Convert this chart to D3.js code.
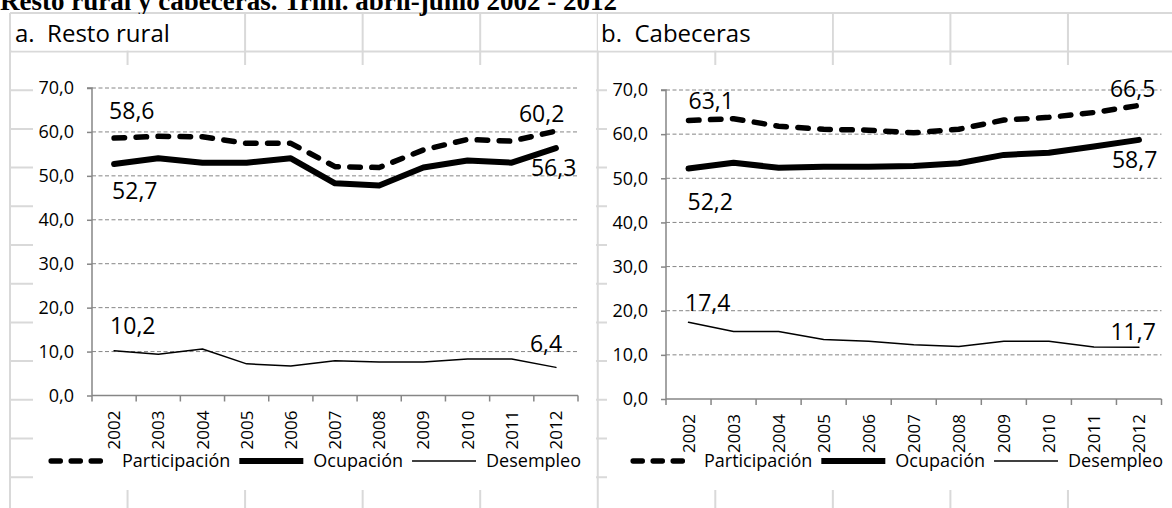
<!DOCTYPE html>
<html>
<head>
<meta charset="utf-8">
<script src="https://cdn.jsdelivr.net/npm/d3@7"></script>
<style>
  body { margin: 0; background: #fff; }
  text { font-family: "Open Sans", sans-serif; fill: #000; }
</style>
</head>
<body>
<svg id="chart" width="1172" height="508"></svg>
<script>
// values
const years = ["2002", "2003", "2004", "2005", "2006", "2007", "2008", "2009", "2010", "2011", "2012"];
const yTicks = [0, 10, 20, 30, 40, 50, 60, 70];
const seriesNames = ["Participación", "Ocupación", "Desempleo"];

const ruralParticipacion = [58.6, 59.0, 58.9, 57.4, 57.4, 52.1, 51.9, 55.9, 58.3, 57.9, 60.2];
const ruralOcupacion     = [52.7, 54.0, 53.0, 53.0, 54.0, 48.3, 47.8, 51.9, 53.5, 53.0, 56.3];
const ruralDesempleo     = [10.2, 9.4, 10.6, 7.2, 6.7, 7.9, 7.6, 7.6, 8.3, 8.3, 6.4];

const cabParticipacion = [63.1, 63.5, 61.8, 61.1, 60.9, 60.3, 61.1, 63.2, 63.8, 64.9, 66.5];
const cabOcupacion     = [52.2, 53.5, 52.4, 52.6, 52.6, 52.8, 53.4, 55.3, 55.8, 57.2, 58.7];
const cabDesempleo     = [17.4, 15.3, 15.3, 13.5, 13.1, 12.3, 11.9, 13.1, 13.1, 11.8, 11.7];

const titleText = "Resto rural y cabeceras. Trim. abril-junio 2002 - 2012";
const panelTitles = ["a.  Resto rural", "b.  Cabeceras"];

// line look per series
const seriesStyle = [
    { width: 5.5, dash: "10.5,11.5" },
    { width: 6, dash: null },
    { width: 1.5, dash: null }
];

// panel layout; label offsets are [first point, last point] as [dx, dy]
const panels = [
    {
        title: panelTitles[0],
        series: [ruralParticipacion, ruralOcupacion, ruralDesempleo],
        box: { x: 33, y: 65, w: 563, h: 425 },
        plot: { x0: 92, x1: 578, top: 88, bottom: 395.5 },
        labelOffsets: [[[-5, -19], [-37, -9]], [[-2, 35], [-25, 28]], [[-4, -17], [-26, -15]]],
        headerX: 15, maskEnd: 244
    },
    {
        title: panelTitles[1],
        series: [cabParticipacion, cabOcupacion, cabDesempleo],
        box: { x: 607, y: 65, w: 579, h: 425 },
        plot: { x0: 666, x1: 1161.5, top: 90, bottom: 399 },
        labelOffsets: [[[0, -11.5], [-29, -8]], [[-1, 41], [-27, 28]], [[-3.5, -11], [-28.5, -7]]],
        headerX: 601, maskEnd: 832
    }
];

const comma = v => d3.format(".1f")(v).replace(".", ",");
const gridGray = "#d9d9d9";
const axisGray = "#868686";

const svg = d3.select("#chart");
svg.append("rect").attr("width", 1172).attr("height", 508).attr("fill", "#fff");

// spreadsheet cell grid behind the charts
const cols = d3.range(11).map(i => 10 + i * 117.55);
const rows = [13].concat(d3.range(13).map(i => 51.5 + i * 38.7));
const sheet = svg.append("g");
sheet.selectAll("line.h").data(rows).join("line")
    .attr("x1", 10).attr("x2", 1172).attr("y1", d => d).attr("y2", d => d)
    .attr("stroke", gridGray).attr("stroke-width", 2);
sheet.selectAll("line.v").data(cols).join("line")
    .attr("x1", d => d).attr("x2", d => d).attr("y1", 13).attr("y2", 508)
    .attr("stroke", gridGray).attr("stroke-width", 2);

// title (clipped at the top of the window, like the source)
const title = svg.append("text")
    .attr("x", 0).attr("y", 9.5)
    .style("font-family", "'Liberation Serif', serif")
    .style("font-weight", "bold")
    .style("font-size", "22px")
    .text(titleText);
const tw = title.node().getComputedTextLength();
title.style("font-size", (22 * 617 / tw) + "px");

panels.forEach(p => {
    // header cell text overflowing into next cell
    svg.append("rect")
        .attr("x", p.headerX - 3).attr("y", 14).attr("width", p.maskEnd - p.headerX + 3).attr("height", 36.5)
        .attr("fill", "#fff");
    svg.append("text")
        .attr("x", p.headerX).attr("y", 42)
        .attr("xml:space", "preserve")
        .style("white-space", "pre")
        .style("font-size", "24px")
        .text(p.title);

    // chart area
    svg.append("rect")
        .attr("x", p.box.x).attr("y", p.box.y).attr("width", p.box.w).attr("height", p.box.h)
        .attr("fill", "#fff");

    const x = d3.scaleBand().domain(years).range([p.plot.x0, p.plot.x1]);
    const y = d3.scaleLinear().domain([0, 70]).range([p.plot.bottom, p.plot.top]);
    const g = svg.append("g");

    // dashed gridlines
    g.selectAll("line.grid").data(yTicks.filter(d => d > 0)).join("line")
        .attr("x1", p.plot.x0).attr("x2", p.plot.x1)
        .attr("y1", d => y(d)).attr("y2", d => y(d))
        .attr("stroke", axisGray).attr("stroke-width", 1).attr("stroke-dasharray", "4,2.5");

    // y axis
    const yAxis = g.append("g")
        .attr("transform", `translate(${p.plot.x0},0)`)
        .call(d3.axisLeft(y).tickValues(yTicks).tickFormat(comma).tickSize(5).tickPadding(13));
    yAxis.select(".domain").attr("stroke", axisGray).attr("stroke-width", 1.5).attr("d", `M-5,${p.plot.top}H0V${p.plot.bottom}`);
    yAxis.selectAll(".tick line").attr("stroke", axisGray).attr("stroke-width", 1.5);
    yAxis.selectAll(".tick text").style("font-size", "18px").style("font-family", "'Open Sans', sans-serif").attr("fill", "#000");

    // x axis with ticks at category boundaries
    const xAxis = g.append("g").attr("transform", `translate(0,${p.plot.bottom})`);
    xAxis.append("line")
        .attr("x1", p.plot.x0).attr("x2", p.plot.x1)
        .attr("stroke", axisGray).attr("stroke-width", 1.5);
    const bounds = years.map(d => x(d)).concat([p.plot.x1]);
    xAxis.selectAll("line.tk").data(bounds).join("line")
        .attr("x1", d => d).attr("x2", d => d).attr("y1", 0).attr("y2", 6)
        .attr("stroke", axisGray).attr("stroke-width", 1.5);
    xAxis.selectAll("text").data(years).join("text")
        .attr("transform", d => `translate(${x(d) + x.bandwidth() / 2},15) rotate(-90)`)
        .attr("text-anchor", "end")
        .attr("dy", "0.36em")
        .style("font-size", "17px")
        .text(d => d);

    // series lines
    p.series.forEach((vals, si) => {
        const st = seriesStyle[si];
        const line = d3.line()
            .x((d, i) => x(years[i]) + x.bandwidth() / 2)
            .y(d => y(d));
        g.append("path")
            .datum(vals)
            .attr("d", line)
            .attr("fill", "none")
            .attr("stroke", "#000")
            .attr("stroke-width", st.width)
            .attr("stroke-linejoin", "round")
            .attr("stroke-linecap", "round")
            .attr("stroke-dasharray", st.dash);

        // data labels at first and last year
        [0, vals.length - 1].forEach((idx, k) => {
            const off = p.labelOffsets[si][k];
            g.append("text")
                .attr("x", x(years[idx]) + x.bandwidth() / 2 + off[0])
                .attr("y", y(vals[idx]) + off[1])
                .style("font-size", "23px")
                .text(comma(vals[idx]));
        });
    });

    // legend, centered in the chart area
    const legend = g.append("g");
    const items = seriesNames.map((name, si) => {
        const it = legend.append("g");
        it.append("line")
            .attr("x1", 0).attr("x2", 64).attr("y1", 0).attr("y2", 0)
            .attr("stroke", "#000")
            .attr("stroke-width", seriesStyle[si].width)
            .attr("stroke-linecap", seriesStyle[si].dash ? "round" : "butt")
            .attr("stroke-dasharray", seriesStyle[si].dash)
            .attr("transform", seriesStyle[si].dash ? "translate(3,0) scale(0.91,1)" : null);
        const t = it.append("text")
            .attr("x", 74).attr("dy", "0.35em")
            .style("font-size", "18px")
            .text(name);
        return { it, w: 74 + t.node().getComputedTextLength() };
    });
    const gap = 9;
    const total = d3.sum(items, d => d.w) + gap * (items.length - 1);
    let cx = p.box.x + p.box.w / 2 - total / 2;
    items.forEach(d => {
        d.it.attr("transform", `translate(${cx},461)`);
        cx += d.w + gap;
    });
});
</script>
</body>
</html>
